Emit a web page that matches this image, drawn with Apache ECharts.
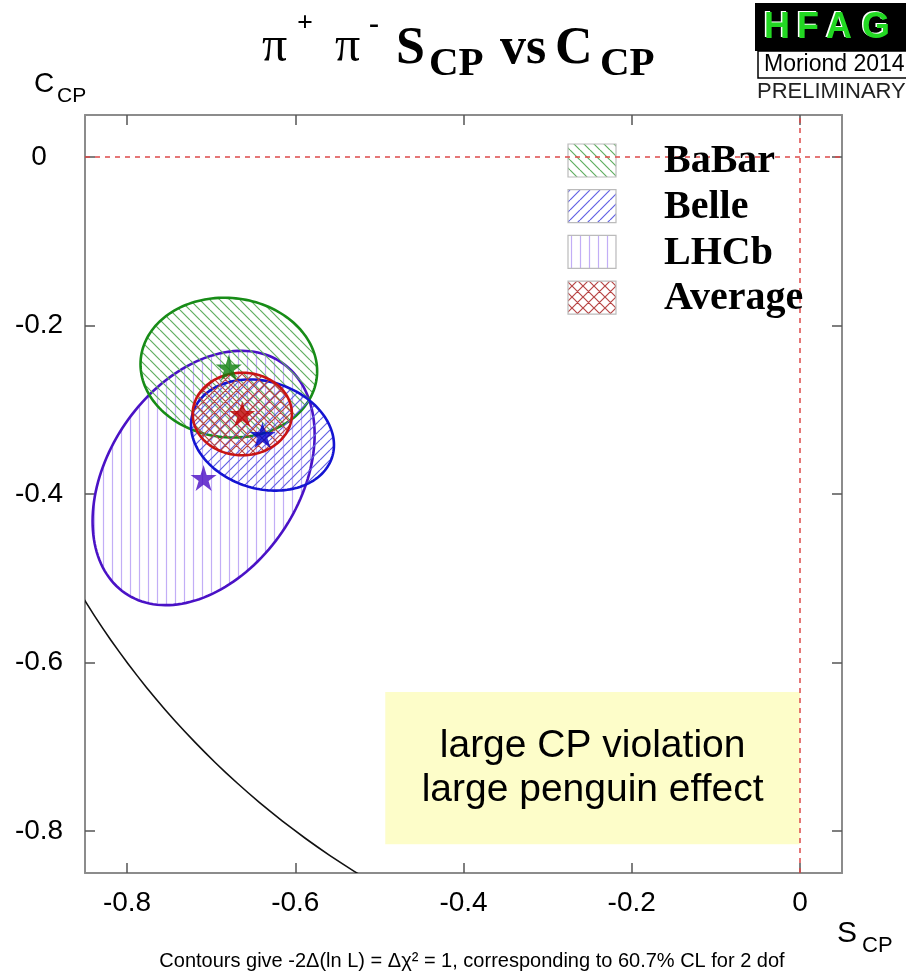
<!DOCTYPE html>
<html>
<head>
<meta charset="utf-8">
<script src="https://cdn.jsdelivr.net/npm/echarts@6/dist/echarts.min.js"></script>
<style>
  html, body { margin: 0; padding: 0; background: #fff; }
  #chart { width: 906px; height: 973px; }
</style>
</head>
<body>
<div id="chart"></div>
<script>
const experiments = ["BaBar", "Belle", "LHCb", "Average"];
const sCenter = [-0.679, -0.639, -0.709, -0.663];
const cCenter = [-0.250, -0.330, -0.381, -0.305];
const sSigma = [0.105, 0.085, 0.132, 0.059];
const cSigma = [0.083, 0.066, 0.151, 0.049];
const correlation = [-0.05, -0.18, 0.34, 0.0];
const drawOrder = [1, 2, 0, 3];

const xTicks = [-0.8, -0.6, -0.4, -0.2, 0];
const yTicks = [-0.8, -0.6, -0.4, -0.2, 0];
const axisMin = -0.85;
const axisMax = 0.05;

// physical boundary S^2 + C^2 = 1
const boundRadius = [1];

// annotation box: [sLeft, cTop, sRight, cBottom]
const noteBox = [-0.493, -0.635, 0, -0.816];
const noteLines = ["large CP violation", "large penguin effect"];

const lineColors = ["#178c17", "#1414d2", "#4a12c6", "#c81414"];
const hatchColors = ["#5fae5f", "#6262e4", "#c2aef6", "#b84646"];
const starColors = ["#0b800b", "#0000cc", "#4a0cc4", "#c00000"];
const hatchKinds = ["back", "fwd", "vertical", "cross"];

function hatch(kind, color, size, width) {
  const cv = document.createElement("canvas");
  cv.width = size;
  cv.height = size;
  const g = cv.getContext("2d");
  g.strokeStyle = color;
  g.lineWidth = width;
  g.beginPath();
  if (kind === "vertical") {
    g.moveTo(size / 2, 0);
    g.lineTo(size / 2, size);
  }
  if (kind === "back" || kind === "cross") {
    for (const k of [-1, 0, 1]) {
      g.moveTo(k * size, 0);
      g.lineTo(k * size + size, size);
    }
  }
  if (kind === "fwd" || kind === "cross") {
    for (const k of [-1, 0, 1]) {
      g.moveTo(k * size, size);
      g.lineTo(k * size + size, 0);
    }
  }
  g.stroke();
  return { image: cv, repeat: "repeat" };
}

const hatchSize = [10, 10, 9, 11];
const patterns = experiments.map((_, i) =>
  hatch(hatchKinds[i], hatchColors[i], hatchSize[i], 1.2)
);

const starPath =
  "path://M50,0 L61.2,34.5 L97.6,34.5 L68.2,55.9 L79.4,90.5 L50,69.1 L20.6,90.5 L31.8,55.9 L2.4,34.5 L38.8,34.5 Z";

const chart = echarts.init(document.getElementById("chart"), null, { renderer: "canvas" });

const frameLine = { show: true, onZero: false, lineStyle: { color: "#8c8c8c", width: 2 } };
const tickStyle = (vals) => ({
  show: true,
  inside: true,
  length: 10,
  customValues: vals,
  lineStyle: { color: "#555", width: 1.5 },
});
const labelFont = { fontFamily: "Liberation Sans", fontSize: 28, color: "#000" };

function sansText(text, x, y, size, extra) {
  return {
    type: "text",
    style: Object.assign(
      { text, x, y, font: size + "px 'Liberation Sans'", fill: "#000", verticalAlign: "middle" },
      extra || {}
    ),
    z: 20,
  };
}
function serifText(text, x, y, size, extra) {
  return {
    type: "text",
    style: Object.assign(
      { text, x, y, font: "bold " + size + "px 'Liberation Serif'", fill: "#000", verticalAlign: "middle" },
      extra || {}
    ),
    z: 20,
  };
}

const graphics = [
  // title
  serifText("π", 262, 48, 50, { font: "50px 'Liberation Serif'" }),
  serifText("+", 297, 24, 28),
  serifText("π", 335, 48, 50, { font: "50px 'Liberation Serif'" }),
  serifText("-", 369, 25, 30),
  serifText("S", 396, 50, 52),
  serifText("CP", 429, 64, 41),
  serifText("vs", 500, 50, 52),
  serifText("C", 555, 50, 52),
  serifText("CP", 600, 64, 41),
  // axis titles
  sansText("C", 34, 84, 28),
  sansText("CP", 57, 96, 21),
  sansText("S", 837, 934, 30),
  sansText("CP", 862, 946, 22),
  // caption
  sansText(
    "Contours give -2Δ(ln L) = Δχ² = 1, corresponding to 60.7% CL for 2 dof",
    472, 961, 20, { align: "center" }
  ),
  // HFAG badge
  { type: "rect", shape: { x: 755, y: 3, width: 160, height: 48 }, style: { fill: "#000" }, z: 19 },
  { type: "rect", shape: { x: 758, y: 51, width: 160, height: 27 }, style: { fill: "#fff", stroke: "#000", lineWidth: 1.5 }, z: 19 },
  sansText("Moriond 2014", 764, 65, 23),
  sansText("PRELIMINARY", 757, 92, 22, { fill: "#222" }),
];

const badgeLetters = ["H", "F", "A", "G"];
const badgeX = [764, 797, 826, 862];
badgeLetters.forEach((ch, i) => {
  graphics.push(sansText(ch, badgeX[i] - 1.5, 27, 36, { font: "bold 36px 'Liberation Sans'", fill: "#fff" }));
  graphics.push(sansText(ch, badgeX[i], 28, 36, { font: "bold 36px 'Liberation Sans'", fill: "#22d822" }));
});

// legend
experiments.forEach((name, i) => {
  const y = 144 + i * 45.7;
  graphics.push({
    type: "rect",
    shape: { x: 568, y, width: 48, height: 33 },
    style: { fill: patterns[i], stroke: "#bbb", lineWidth: 1.2 },
    z: 4,
  });
  graphics.push(serifText(name, 664, y + 18, 40, { font: "bold 40px 'Liberation Serif'" }));
});

const option = {
  animation: false,
  backgroundColor: "#fff",
  grid: { left: 85, top: 115, right: 64, bottom: 100 },
  xAxis: [
    {
      type: "value",
      position: "bottom",
      min: axisMin,
      max: axisMax,
      axisLine: frameLine,
      axisTick: tickStyle(xTicks),
      axisLabel: Object.assign({ customValues: xTicks, margin: 16, formatter: (v) => String(v) }, labelFont),
      splitLine: { show: false },
    },
    {
      type: "value",
      position: "top",
      min: axisMin,
      max: axisMax,
      axisLine: frameLine,
      axisTick: tickStyle(xTicks),
      axisLabel: { show: false },
      splitLine: { show: false },
    },
  ],
  yAxis: [
    {
      type: "value",
      position: "left",
      min: axisMin,
      max: axisMax,
      axisLine: frameLine,
      axisTick: tickStyle(yTicks),
      axisLabel: Object.assign(
        { customValues: yTicks, margin: 46, align: "center", formatter: (v) => String(v) },
        labelFont
      ),
      splitLine: { show: false },
    },
    {
      type: "value",
      position: "right",
      min: axisMin,
      max: axisMax,
      axisLine: frameLine,
      axisTick: tickStyle(yTicks),
      axisLabel: { show: false },
      splitLine: { show: false },
    },
  ],
  graphic: graphics,
  series: [
    {
      name: "note",
      type: "custom",
      clip: true,
      z: 1,
      data: [noteBox],
      renderItem(params, api) {
        const p0 = api.coord([api.value(0), api.value(1)]);
        const p1 = api.coord([api.value(2), api.value(3)]);
        return {
          type: "group",
          children: [
            {
              type: "rect",
              shape: { x: p0[0], y: p0[1], width: p1[0] - p0[0], height: p1[1] - p0[1] },
              style: { fill: "#fdfdc9" },
            },
            {
              type: "text",
              style: {
                text: noteLines.join("\n"),
                x: (p0[0] + p1[0]) / 2,
                y: (p0[1] + p1[1]) / 2,
                align: "center",
                verticalAlign: "middle",
                font: "39px 'Liberation Sans'",
                lineHeight: 44,
                fill: "#000",
              },
            },
          ],
        };
      },
    },
    {
      name: "bound",
      type: "custom",
      clip: true,
      z: 2,
      data: boundRadius.map((r) => [r]),
      renderItem(params, api) {
        const r = api.value(0);
        const pts = [];
        for (let k = 0; k <= 90; k++) {
          const a = Math.PI + (Math.PI / 2) * (k / 90);
          pts.push(api.coord([r * Math.cos(a), r * Math.sin(a)]));
        }
        return { type: "polyline", shape: { points: pts }, style: { stroke: "#111", lineWidth: 1.6, fill: null } };
      },
    },
    {
      name: "contours",
      type: "custom",
      clip: true,
      z: 3,
      data: experiments.map((_, i) => [sCenter[i], cCenter[i], sSigma[i], cSigma[i], correlation[i], i]),
      renderItem(params, api) {
        const i = api.value(5);
        const cx = api.value(0), cy = api.value(1);
        const sx = api.value(2), sy = api.value(3), rho = api.value(4);
        const pts = [];
        for (let k = 0; k < 160; k++) {
          const t = (2 * Math.PI * k) / 160;
          const s = cx + sx * Math.cos(t);
          const c = cy + sy * (rho * Math.cos(t) + Math.sqrt(1 - rho * rho) * Math.sin(t));
          pts.push(api.coord([s, c]));
        }
        return {
          type: "polygon",
          z2: drawOrder[i],
          shape: { points: pts },
          style: { fill: patterns[i], stroke: lineColors[i], lineWidth: 2.6 },
        };
      },
    },
    {
      name: "centres",
      type: "scatter",
      z: 5,
      symbol: starPath,
      symbolSize: 26,
      data: experiments.map((_, i) => ({
        value: [sCenter[i], cCenter[i]],
        itemStyle: { color: starColors[i] },
      })),
    },
    {
      name: "zero",
      type: "line",
      z: 10,
      data: [],
      markLine: {
        silent: true,
        symbol: "none",
        label: { show: false },
        lineStyle: { color: "#dd4a4a", type: [5, 5], width: 1.5 },
        data: [{ xAxis: 0 }, { yAxis: 0 }],
      },
    },
  ],
};

chart.setOption(option);
</script>
</body>
</html>
